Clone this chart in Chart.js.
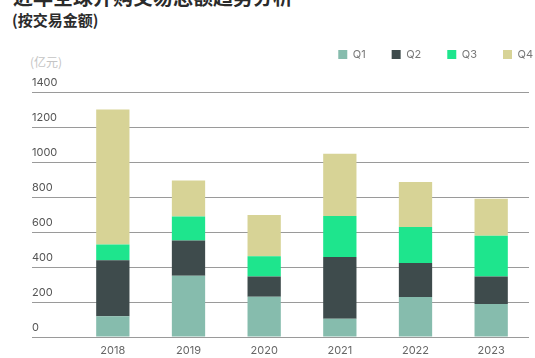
<!DOCTYPE html>
<html>
<head>
<meta charset="utf-8">
<script src="https://cdn.jsdelivr.net/npm/chart.js@4.4.1/dist/chart.umd.min.js"></script>
<style>
    body { margin: 0; background: #fff; }
    .wrap { position: relative; width: 535px; height: 358px; overflow: hidden; }
    .wrap canvas { position: absolute; left: 0; top: 0; }
    .t-main { position: absolute; left: 13px; top: -13px; font: bold 20px "Noto Sans CJK SC"; color: #2b2b2b; line-height: 20px; white-space: nowrap; }
    .t-sub { position: absolute; left: 12px; top: 10px; font: bold 15px "Noto Sans CJK SC"; color: #2b2b2b; line-height: 20px; }
    .t-unit { position: absolute; left: 30px; top: 54px; font: 12px "Noto Sans CJK SC"; color: #c4c4c4; line-height: 16px; }
</style>
</head>
<body>
<div class="wrap">
    <div class="t-main">近年全球并购交易总额趋势分析</div>
    <div class="t-sub">(按交易金额)</div>
    <div class="t-unit">(亿元)</div>
    <canvas id="myChart" width="535" height="358"></canvas>
</div>
<script>
// 연도 / 분기별 값 (亿元)
const years = ['2018', '2019', '2020', '2021', '2022', '2023'];
const q1 = [118, 350, 230, 105, 229, 189];
const q2 = [320, 202, 116, 352, 194, 157];
const q3 = [91, 137, 115, 234, 206, 233];
const q4 = [771, 206, 236, 356, 257, 211];
const yTicks = [0, 200, 400, 600, 800, 1000, 1200, 1400];

const colors = ['#86bcad', '#3e4b4c', '#1ee58d', '#d7d396'];
const seriesNames = ['Q1', 'Q2', 'Q3', 'Q4'];
const tickFont = { family: 'Inter', size: 11 };

// 범례 위치 보정 (오른쪽 끝 + 위로)
const legendShift = {
    id: 'legendShift',
    afterLayout(chart) {
        const lg = chart.legend;
        const pad = chart.options.plugins.legend.labels.padding + 4;
        lg.left += pad;
        lg.right += pad;
        lg.top -= 22;
        lg.bottom -= 22;
    }
};

const ctx = document.getElementById('myChart').getContext('2d');
new Chart(ctx, {
    type: 'bar',
    data: {
        labels: years,
        datasets: [q1, q2, q3, q4].map((vals, i) => ({
            label: seriesNames[i],
            data: vals,
            backgroundColor: colors[i],
            borderWidth: 0,
            categoryPercentage: 1,
            barPercentage: 0.44
        }))
    },
    options: {
        responsive: false,
        animation: false,
        layout: { padding: { top: 45, left: 32, right: 6, bottom: 0 } },
        scales: {
            x: {
                stacked: true,
                afterFit(scale) {
                    scale.height = 21;
                },
                grid: { display: false, drawTicks: false },
                border: { display: false },
                ticks: { color: '#666', font: tickFont, padding: 7 }
            },
            y: {
                stacked: true,
                min: 0,
                max: 1400,
                afterBuildTicks(scale) {
                    scale.ticks = yTicks.map(v => ({ value: v }));
                },
                afterFit(scale) {
                    scale.width = 43;
                },
                grid: { color: '#9a9a9a', lineWidth: 1, drawTicks: true, tickLength: 43 },
                border: { display: false },
                ticks: {
                    color: '#555',
                    font: tickFont,
                    crossAlign: 'far',
                    labelOffset: -9,
                    padding: 0,
                    callback: v => String(v)
                }
            }
        },
        plugins: {
            legend: {
                position: 'top',
                align: 'end',
                labels: {
                    boxWidth: 9,
                    boxHeight: 9,
                    padding: 26,
                    color: '#777',
                    font: tickFont
                }
            },
            tooltip: { enabled: false }
        }
    },
    plugins: [legendShift]
});
</script>
</body>
</html>
